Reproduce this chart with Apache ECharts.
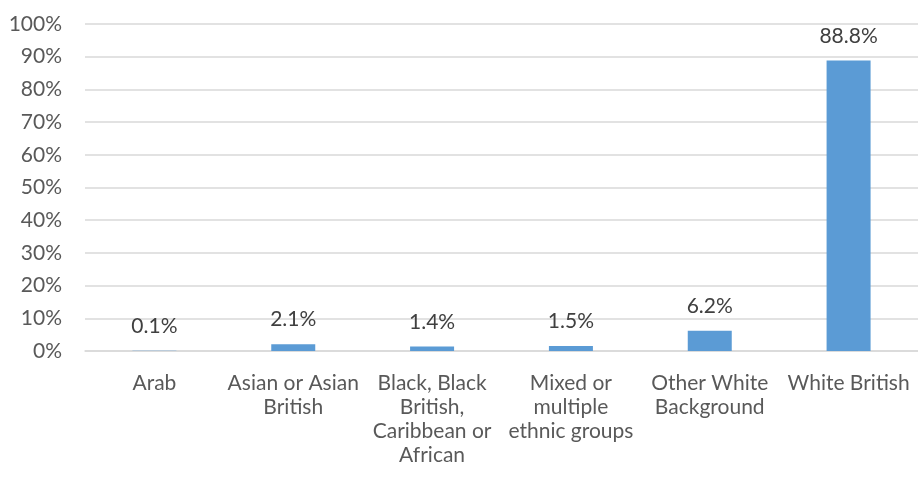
<!DOCTYPE html>
<html>
<head>
<meta charset="utf-8">
<script src="https://cdn.jsdelivr.net/npm/echarts@6/dist/echarts.min.js"></script>
<style>
  html, body { margin: 0; padding: 0; background: #fff; }
  #chart { width: 918px; height: 483px; }
</style>
</head>
<body>
<div id="chart"></div>
<script>
// Ethnic group shares (percent of population)
const categories = [
  'Arab',
  'Asian or Asian\nBritish',
  'Black, Black\nBritish,\nCaribbean or\nAfrican',
  'Mixed or\nmultiple\nethnic groups',
  'Other White\nBackground',
  'White British'
];
const shares = [0.1, 2.1, 1.4, 1.5, 6.2, 88.8];
const yTicks = { min: 0, max: 100, step: 10 };

const textColor = '#595959';
const fontFamily = 'Lato, "Liberation Sans", sans-serif';

const chart = echarts.init(document.getElementById('chart'));
chart.setOption({
  animation: false,
  grid: { left: 85, right: 0, top: 24, bottom: 132 },
  xAxis: {
    type: 'category',
    data: categories,
    axisLine: { show: true, lineStyle: { color: '#d9d9d9', width: 1.5 } },
    axisTick: { show: false },
    axisLabel: {
      color: textColor, fontFamily, fontSize: 21, lineHeight: 24,
      margin: 20, interval: 0, align: 'center'
    }
  },
  yAxis: {
    type: 'value',
    min: yTicks.min, max: yTicks.max, interval: yTicks.step,
    axisLine: { show: false },
    axisTick: { show: false },
    splitLine: { lineStyle: { color: '#d9d9d9', width: 1.5 } },
    axisLabel: {
      color: textColor, fontFamily, fontSize: 21, margin: 23,
      formatter: v => v + '%'
    }
  },
  series: [{
    type: 'bar',
    data: shares,
    barWidth: 44,
    itemStyle: { color: '#5b9bd5' },
    label: {
      show: true, position: 'top', distance: 14,
      color: '#404040', fontFamily, fontSize: 21,
      formatter: p => p.value.toFixed(1) + '%'
    }
  }]
});
</script>
</body>
</html>
